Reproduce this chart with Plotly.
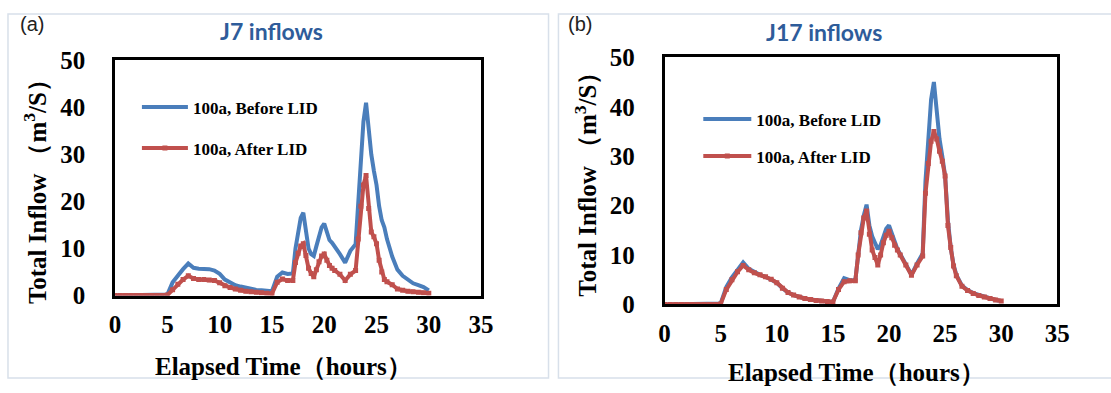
import plotly.graph_objects as go

# ---------------- data ----------------
TIME = [0, 0.5, 1, 1.5, 2, 2.5, 3, 3.5, 4, 4.5,
        5, 5.5, 6, 6.5, 7, 7.5, 8, 8.5, 9, 9.5, 10, 10.5, 11, 11.5, 12, 12.5,
        13, 13.5, 14, 14.5, 15, 15.5, 16, 16.5, 17,
        17.25, 17.5, 17.75, 18, 18.25, 18.5, 18.75, 19, 19.25, 19.5, 19.75, 20,
        20.25, 20.5, 20.75, 21,
        21.5, 22, 22.5, 23,
        23.25, 23.5, 23.75, 24, 24.25, 24.5, 24.75, 25, 25.25, 25.5, 25.75, 26,
        26.5, 27, 27.5, 28, 28.5, 29, 29.5, 30]

J7_BEFORE = [0] * 10 + [
    0.2, 2.8, 4.3, 5.6, 6.8, 5.9, 5.7, 5.7, 5.6, 5.3, 4.6, 3.4, 2.7, 2.2, 1.9, 1.6,
    1.4, 1.2, 1.1, 1.0, 0.9, 4.0, 4.9, 4.6, 4.7,
    10.0, 13.5, 16.5, 17.6, 13.0, 10.0, 8.8, 8.4, 10.5, 12.8, 14.5, 15.3,
    13.5, 11.8, 11.2, 10.5,
    8.8, 7.0, 9.5, 10.9,
    20.0, 30.0, 37.0, 41.0, 35.0, 30.0, 26.5, 23.5, 19.0, 16.0, 14.5, 12.0,
    8.3, 5.5, 4.2, 3.3, 2.6, 2.2, 1.8, 1.1]

J7_AFTER = [0] * 10 + [
    0.1, 1.2, 2.4, 3.4, 4.2, 3.6, 3.4, 3.4, 3.3, 3.2, 2.7, 2.1, 1.7, 1.4, 1.1, 0.9,
    0.8, 0.7, 0.6, 0.5, 0.4, 2.8, 3.5, 3.2, 3.2,
    7.0, 9.0, 10.5, 11.0, 8.5, 5.8, 4.7, 4.0, 5.5, 7.2, 8.4, 8.8,
    7.5, 6.4, 5.8, 5.3,
    4.5, 3.2, 4.5, 5.3,
    12.0, 19.0, 23.5, 25.5, 18.5, 13.5, 12.5, 11.0, 7.5, 5.0, 3.4, 2.9,
    2.3, 1.4, 1.1, 0.9, 0.8, 0.7, 0.6, 0.5]

J17_BEFORE = [0] * 10 + [
    0.2, 3.5, 5.5, 7.0, 8.5, 7.2, 6.5, 6.0, 5.6, 5.1, 4.4, 3.3, 2.4, 1.9, 1.5, 1.2,
    1.0, 0.8, 0.7, 0.6, 0.5, 3.2, 5.3, 4.9, 4.9,
    10.0, 15.0, 18.0, 20.2, 16.0, 13.8, 12.5, 11.2, 12.0, 14.0, 15.3, 16.0,
    14.3, 12.5, 11.2, 10.2,
    8.0, 6.0, 8.3, 10.3,
    25.0, 35.0, 41.5, 45.0, 38.0, 33.5, 30.0, 26.0, 17.0, 11.5, 8.0, 6.0,
    3.8, 2.9, 2.3, 1.9, 1.5, 1.2, 0.9, 0.7]

J17_AFTER = [0] * 10 + [
    0.1, 3.0, 5.0, 6.6, 7.9, 7.0, 6.4, 6.0, 5.6, 5.1, 4.4, 3.3, 2.4, 1.9, 1.5, 1.2,
    1.0, 0.8, 0.7, 0.6, 0.5, 3.0, 4.6, 4.8, 4.8,
    10.0, 14.5, 17.5, 18.9, 14.2, 11.0, 9.5, 8.0, 10.0, 12.5, 14.0, 14.8,
    13.5, 12.0, 11.0, 10.0,
    8.0, 5.9, 8.0, 9.8,
    22.5, 28.5, 33.0, 35.0, 33.5, 31.0, 29.0, 26.0, 16.0, 11.5, 7.8, 5.8,
    3.7, 2.8, 2.2, 1.8, 1.5, 1.2, 0.9, 0.7]

X_TICKS = [0, 5, 10, 15, 20, 25, 30, 35]
Y_TICKS = [0, 10, 20, 30, 40, 50]
SERIES_NAMES = ["100a, Before LID", "100a, After LID"]
PANEL_TITLES = ["J7 inflows", "J17 inflows"]
PANEL_TAGS = ["(a)", "(b)"]
X_TITLE = "Elapsed Time（hours）"
Y_TITLE = "Total Inflow （m<sup>3</sup>/S）"

# ---------------- styling ----------------
W, H = 1111, 393
BLUE = "#4A7EBB"
RED = "#C0504D"
SERIF = "Liberation Serif"

# mapping from picture pixels to paper fractions (compensates capture offset/scale)
OX, SX = 5.0, 0.991
OY, SY = 10.3, 0.9385


def px_x(p):
    return (p - OX) / SX / W


def px_y(p):
    return 1 - (p - OY) / SY / H


def fig_y(p):
    # raw figure-pixel to paper fraction (for empirically tuned items)
    return 1 - p / H


fig = go.Figure()

panels = [
    dict(before=J7_BEFORE, after=J7_AFTER, xa="x", ya="y", leg="legend"),
    dict(before=J17_BEFORE, after=J17_AFTER, xa="x2", ya="y2", leg="legend2"),
]

for i, p in enumerate(panels):
    fig.add_trace(go.Scatter(
        x=TIME, y=p["before"], mode="lines", name=SERIES_NAMES[0],
        line=dict(color=BLUE, width=4), xaxis=p["xa"], yaxis=p["ya"],
        legend=p["leg"], legendgroup=f"b{i}"))
    fig.add_trace(go.Scatter(
        x=TIME, y=p["after"], mode="lines+markers", name=SERIES_NAMES[1],
        line=dict(color=RED, width=4),
        marker=dict(symbol="square", size=5, color=RED),
        xaxis=p["xa"], yaxis=p["ya"], legend=p["leg"], legendgroup=f"a{i}"))

axis_common = dict(
    showline=True, linecolor="black", linewidth=2.5, mirror=True,
    showgrid=False, zeroline=False, ticks="",
    tickfont=dict(family=SERIF, size=25, color="black", weight="bold"),
)

fig.update_layout(
    width=W, height=H,
    margin=dict(l=0, r=0, t=0, b=0),
    paper_bgcolor="white", plot_bgcolor="white",
    xaxis=dict(domain=[px_x(115), px_x(484)], range=[0, 35], tickvals=X_TICKS,
               anchor="y", ticklabelstandoff=5, **axis_common),
    yaxis=dict(domain=[px_y(295), px_y(58)], range=[0, 50], tickvals=Y_TICKS,
               anchor="x", ticklabelstandoff=22, **axis_common),
    xaxis2=dict(domain=[px_x(669), px_x(1065)], range=[0, 35], tickvals=X_TICKS,
                anchor="y2", ticklabelstandoff=5, **axis_common),
    yaxis2=dict(domain=[px_y(304), px_y(55)], range=[0, 50], tickvals=Y_TICKS,
                anchor="x2", ticklabelstandoff=22, **axis_common),
    legend=dict(x=px_x(137), y=fig_y(82), xanchor="left", yanchor="top",
                bgcolor="rgba(0,0,0,0)", traceorder="grouped", tracegroupgap=16,
                itemwidth=46,
                font=dict(family=SERIF, size=17, color="black", weight="bold")),
    legend2=dict(x=px_x(703), y=fig_y(95), xanchor="left", yanchor="top",
                 bgcolor="rgba(0,0,0,0)", traceorder="grouped", tracegroupgap=12,
                 itemwidth=48,
                 font=dict(family=SERIF, size=17, color="black", weight="bold")),
    showlegend=True,
)

# panel frames
FRAME = "#D8E0EA"
fig.add_shape(type="rect", xref="paper", yref="paper",
              x0=px_x(7), x1=px_x(552), y0=fig_y(392), y1=fig_y(1),
              line=dict(color=FRAME, width=1.5), layer="below")
fig.add_shape(type="rect", xref="paper", yref="paper",
              x0=px_x(562), x1=px_x(1125), y0=fig_y(392), y1=fig_y(1),
              line=dict(color=FRAME, width=1.5), layer="below")

ann = []
for txt, cx, cy in [(PANEL_TITLES[0], 273, 28), (PANEL_TITLES[1], 830, 29)]:
    ann.append(dict(text=txt, x=px_x(cx), y=px_y(cy), xref="paper", yref="paper",
                    showarrow=False, xanchor="center", yanchor="middle",
                    font=dict(family="Lato", size=23, color="#2E5C9A", weight="bold")))
for txt, cx, cy in [(PANEL_TAGS[0], 31, 21), (PANEL_TAGS[1], 584, 21)]:
    ann.append(dict(text=txt, x=px_x(cx), y=px_y(cy), xref="paper", yref="paper",
                    showarrow=False, xanchor="center", yanchor="middle",
                    font=dict(family="Liberation Sans", size=20, color="#222222")))
for cx, cy in [(285, 367), (863, 373)]:
    ann.append(dict(text=X_TITLE, x=px_x(cx), y=px_y(cy), xref="paper", yref="paper",
                    showarrow=False, xanchor="center", yanchor="middle",
                    font=dict(family=SERIF, size=25, color="black", weight="bold")))
for cx, cy in [(35, 184), (590, 177)]:
    ann.append(dict(text=Y_TITLE, x=px_x(cx), y=px_y(cy), xref="paper", yref="paper",
                    showarrow=False, xanchor="center", yanchor="middle", textangle=-90,
                    font=dict(family=SERIF, size=25, color="black", weight="bold")))
fig.update_layout(annotations=ann)

fig.write_html("out.html", config={"displayModeBar": False},
               post_script="document.body.style.margin='0';")
